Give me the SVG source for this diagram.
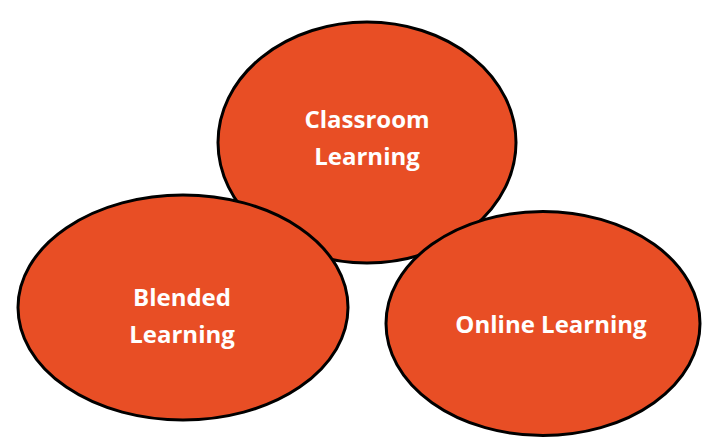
<svg xmlns="http://www.w3.org/2000/svg" width="702" height="438" viewBox="0 0 702 438">
<style>
.n{fill:#E84E25;stroke:#000;stroke-width:3}
.t{fill:#fff;font-family:"Open Sans","Liberation Sans",sans-serif;font-weight:bold;font-size:24px;text-anchor:middle}
</style>
<rect width="702" height="438" fill="#fff"/>
<g id="classroom">
<ellipse class="n" cx="367" cy="142.5" rx="149" ry="120.5"/>
<text class="t" x="367" y="128">Classroom</text>
<text class="t" x="367" y="165">Learning</text>
</g>
<g id="blended">
<ellipse class="n" cx="183" cy="307.5" rx="165" ry="112.5"/>
<text class="t" x="182" y="306">Blended</text>
<text class="t" x="182" y="343">Learning</text>
</g>
<g id="online">
<ellipse class="n" cx="543" cy="323.5" rx="157" ry="112"/>
<text class="t" x="551" y="333">Online Learning</text>
</g>
<g id="connectors"></g>
</svg>
